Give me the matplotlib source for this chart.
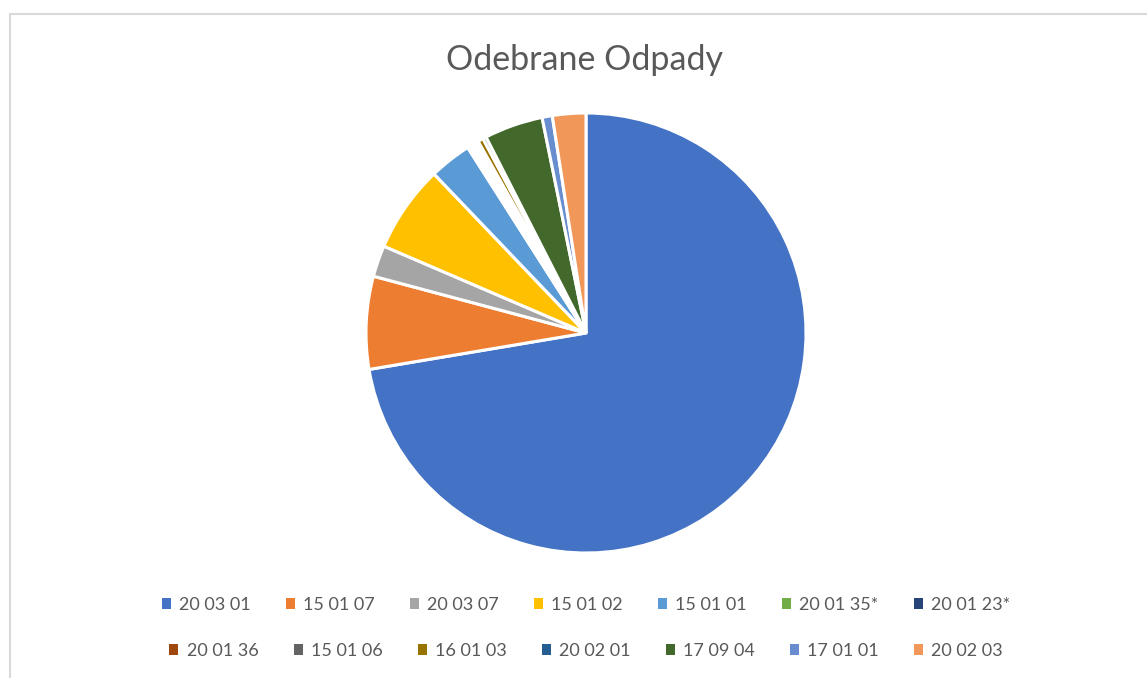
import matplotlib
matplotlib.use("Agg")
import matplotlib.pyplot as plt
from matplotlib.patches import Patch, Rectangle

categories = ["20 03 01", "15 01 07", "20 03 07", "15 01 02", "15 01 01",
              "20 01 35*", "20 01 23*", "20 01 36", "15 01 06", "16 01 03",
              "20 02 01", "17 09 04", "17 01 01", "20 02 03"]
values = [72.3, 6.8, 2.3, 6.4, 3.1, 0.22, 0.22, 0.22, 0.22, 0.4, 0.25, 4.3, 0.75, 2.45]
colors = ["#4472C4", "#ED7D31", "#A5A5A5", "#FFC000", "#5B9BD5", "#70AD47",
          "#264478", "#9E480E", "#636363", "#997300", "#255E91", "#43682B",
          "#698ED0", "#F1975A"]
title = "Odebrane Odpady"

plt.rcParams['font.family'] = ['Lato', 'DejaVu Sans']
W, H = 1147, 678
fig = plt.figure(figsize=(W / 100, H / 100), dpi=100)

# chart frame (extends beyond right/bottom)
fig.patches.append(Rectangle((9.5 / W, -0.1), 1.2, (H - 13.5) / H + 0.1,
                             transform=fig.transFigure, fill=False,
                             edgecolor="#D9D9D9", linewidth=1.5))

cx, cy, r = 586, 333, 220
ax = fig.add_axes([(cx - r) / W, (H - cy - r) / H, 2 * r / W, 2 * r / H])
ax.pie(values, colors=colors, startangle=90, counterclock=False, radius=1,
       wedgeprops=dict(edgecolor="white", linewidth=2.2))
ax.set_xlim(-1, 1)
ax.set_ylim(-1, 1)
ax.set_aspect("equal")
ax.axis("off")

fig.text(585 / W, 1 - 60 / H, title, ha="center", va="center",
         fontsize=24.5, color="#595959")

handles = [Patch(facecolor=c, edgecolor="none") for c in colors]
rows = [(0, 7, 605), (7, 14, 651)]
for a, b, y in rows:
    leg = fig.legend(handles[a:b], categories[a:b], loc="center",
                     bbox_to_anchor=(586 / W, 1 - y / H), ncol=7, frameon=False,
                     fontsize=13, handlelength=0.5, handleheight=0.5,
                     handletextpad=0.45, columnspacing=1.95, borderpad=0)
    for t in leg.get_texts():
        t.set_color("#595959")

fig.savefig("out.png", dpi=100)
